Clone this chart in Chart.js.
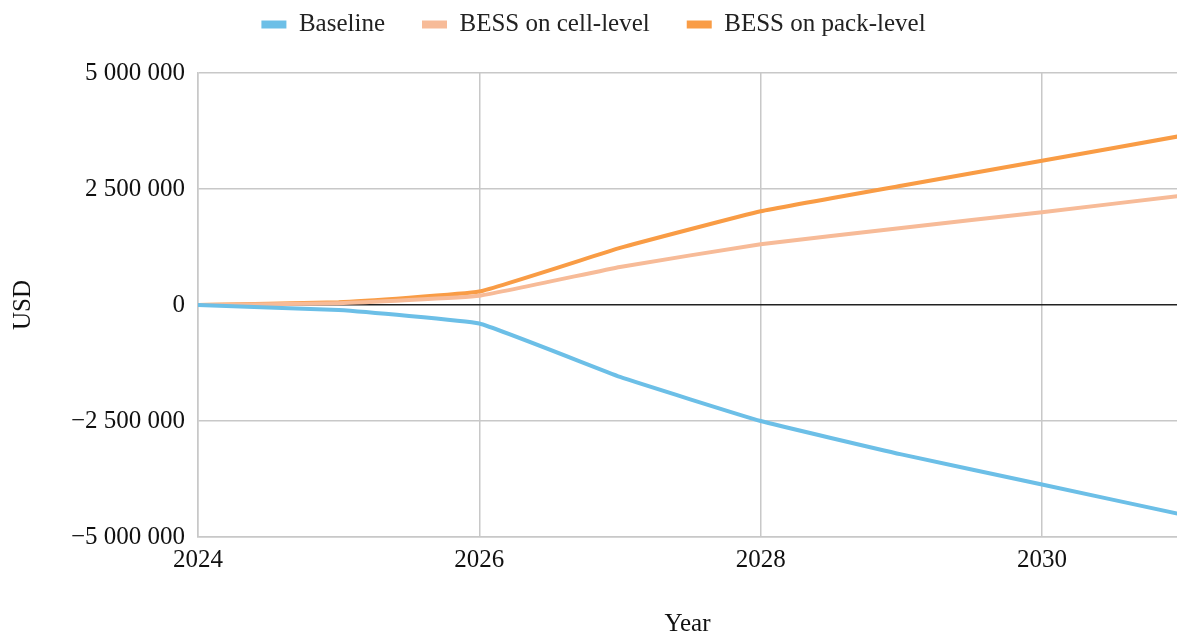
<!DOCTYPE html>
<html>
<head>
<meta charset="utf-8">
<script src="https://cdn.jsdelivr.net/npm/chart.js@4/dist/chart.umd.min.js"></script>
<style>
  html, body { margin: 0; padding: 0; background: #ffffff; }
  #wrap { width: 1177px; height: 634px; position: relative; overflow: hidden; }
</style>
</head>
<body>
<div id="wrap"><canvas id="c" width="1177" height="634"></canvas></div>
<script>
// Cumulative cash position per year, in USD
const years = [2024, 2025, 2026, 2027, 2028, 2029, 2030, 2031];
const baseline = [0, -110000, -400000, -1550000, -2500000, -3220000, -3870000, -4520000];
const bessCell = [0, 40000, 200000, 820000, 1310000, 1660000, 2000000, 2360000];
const bessPack = [0, 60000, 290000, 1230000, 2020000, 2570000, 3110000, 3650000];

const seriesNames = ['Baseline', 'BESS on cell-level', 'BESS on pack-level'];
const xTicks = [2024, 2026, 2028, 2030];
const yTicks = [-5000000, -2500000, 0, 2500000, 5000000];
const xRange = [2024, 2030.96];

const colors = ['#6cbfe7', '#f7bb98', '#f99c45'];
const FONT = 'Liberation Serif';
const FS = 25;

function toPoints(vals) {
  return years.map((y, i) => ({ x: y, y: vals[i] }));
}

function fmtUsd(v) {
  const s = Math.abs(v).toFixed(0).replace(/\B(?=(\d{3})+(?!\d))/g, ' ');
  return (v < 0 ? '\u2212' : '') + s;
}

// Nudge the legend row up into the top margin after layout
const legendShift = {
  id: 'legendShift',
  afterLayout(chart) {
    const lg = chart.legend;
    if (lg) {
      lg.top -= 26; lg.bottom -= 26;
      lg.left += 5; lg.right += 5;
    }
  }
};

const lineStyle = {
  borderWidth: 4,
  pointRadius: 0,
  pointHoverRadius: 0,
  fill: false,
  tension: 0.1
};

new Chart(document.getElementById('c'), {
  type: 'line',
  data: {
    datasets: [
      Object.assign({ label: seriesNames[0], data: toPoints(baseline), borderColor: colors[0], backgroundColor: colors[0] }, lineStyle),
      Object.assign({ label: seriesNames[1], data: toPoints(bessCell), borderColor: colors[1], backgroundColor: colors[1] }, lineStyle),
      Object.assign({ label: seriesNames[2], data: toPoints(bessPack), borderColor: colors[2], backgroundColor: colors[2] }, lineStyle)
    ]
  },
  options: {
    responsive: false,
    animation: false,
    devicePixelRatio: 1,
    layout: { padding: { top: 1, left: 0, right: 0, bottom: 0 } },
    plugins: {
      tooltip: { enabled: false },
      legend: {
        position: 'top',
        labels: {
          boxWidth: 25,
          boxHeight: 8,
          padding: 37,
          color: '#222',
          font: { family: FONT, size: FS },
          generateLabels: chart =>
            Chart.defaults.plugins.legend.labels.generateLabels(chart)
              .map(item => Object.assign(item, { lineWidth: 0 }))
        }
      }
    },
    scales: {
      x: {
        type: 'linear',
        min: xRange[0],
        max: xRange[1],
        afterBuildTicks(scale) { scale.ticks = xTicks.map(v => ({ value: v })); },
        afterFit(scale) { scale.height = 97; },
        grid: { color: '#c8c8c8', lineWidth: 1.5, drawTicks: false },
        border: { color: '#c8c8c8', width: 1.5 },
        ticks: {
          color: '#111',
          padding: 8,
          maxRotation: 0,
          font: { family: FONT, size: FS },
          callback: v => String(v)
        },
        title: {
          display: true,
          text: 'Year',
          color: '#111',
          padding: { top: 0, bottom: -5 },
          font: { family: FONT, size: FS }
        }
      },
      y: {
        type: 'linear',
        min: -5000000,
        max: 5000000,
        afterBuildTicks(scale) { scale.ticks = yTicks.map(v => ({ value: v })); },
        afterFit(scale) { scale.width = 198; },
        grid: {
          color: ctx => (ctx.tick && ctx.tick.value === 0 ? '#222222' : '#c8c8c8'),
          lineWidth: 1.5,
          drawTicks: false
        },
        border: { color: '#c8c8c8', width: 1.5 },
        ticks: {
          color: '#111',
          padding: 13,
          font: { family: FONT, size: FS },
          callback: v => fmtUsd(v)
        },
        title: {
          display: true,
          text: 'USD',
          color: '#111',
          padding: { top: 8, bottom: 0 },
          font: { family: FONT, size: FS }
        }
      }
    }
  },
  plugins: [legendShift]
});
</script>
</body>
</html>
